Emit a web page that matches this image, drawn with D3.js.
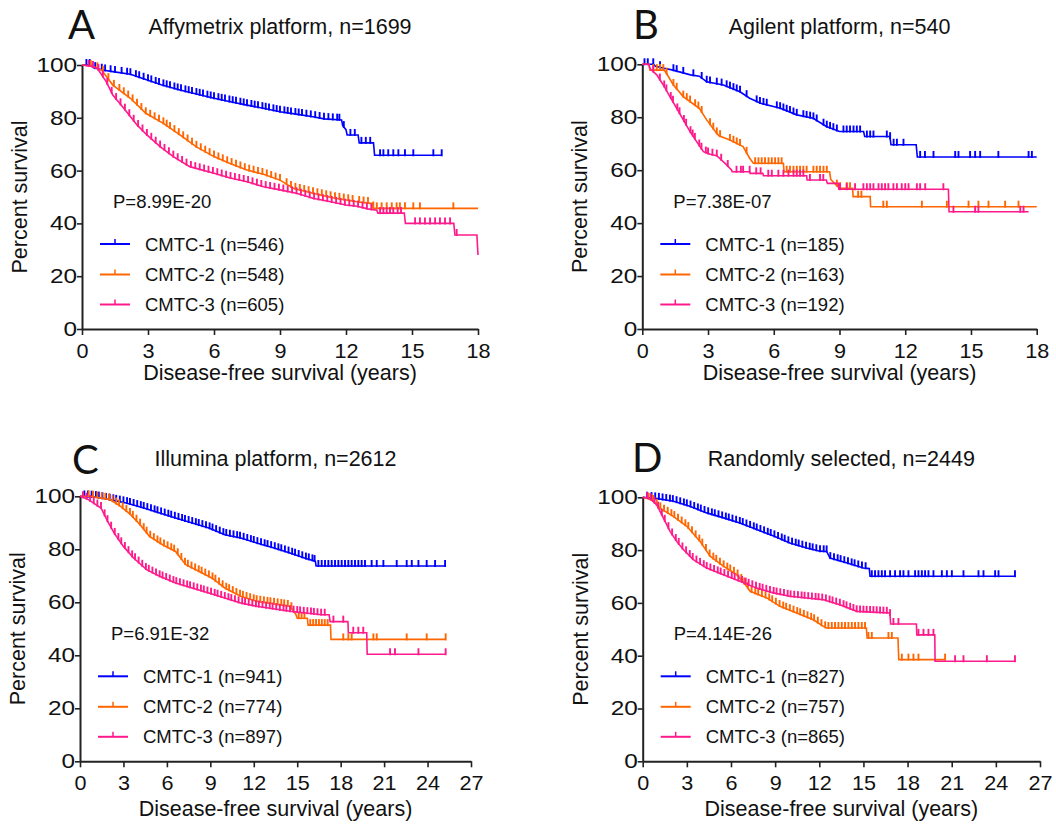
<!DOCTYPE html>
<meta charset="utf-8">
<script src="https://d3js.org/d3.v7.min.js"></script>
<style>
body { margin: 0; background: #fff; }
text { font-family: "Liberation Sans", Arial, sans-serif; fill: #111; }
.letter { font-family: Lato, "Open Sans", sans-serif; }
</style>
<div id="chart"></div>
<script>

// ---- chart texts ----
var panelIds = ["A", "B", "C", "D"];
var panelTitles = ["Affymetrix platform, n=1699", "Agilent platform, n=540",
                   "Illumina platform, n=2612", "Randomly selected, n=2449"];
var pValues = ["P=8.99E-20", "P=7.38E-07", "P=6.91E-32", "P=4.14E-26"];
var groupNames = ["CMTC-1", "CMTC-2", "CMTC-3"];
var groupN = [[546, 548, 605], [185, 163, 192], [941, 774, 897], [827, 757, 865]];
var xMaxYears = [18, 18, 27, 27];
var xTickStep = 3;
var yTicks = [0, 20, 40, 60, 80, 100];
var colors = ["#0000ff", "#ff6600", "#ff1a8c"];

// ---- survival curves: [years, percent surviving] ----
var survA1 = [[0,100],[0.4,100],[0.5,99],[1.0,98],[1.4,97.5],[2.2,96.5],[2.9,94.5],[3.6,92.5],[4.45,90.5],[5.2,89],[6.0,87.4],[6.8,86],[7.5,84.8],[8.3,83.5],[9.0,82.3],[9.8,81.3],[10.5,80.4],[11.0,79.6],[11.8,79.2],[11.85,77],[12.0,75.5],[12.05,73.5],[12.55,73.5],[12.6,70.5],[13.25,70.5],[13.3,65.8],[16.35,65.8]];
var survA2 = [[0,100],[0.5,99.5],[0.9,98],[1.4,92.4],[2.2,87.4],[2.9,81.7],[3.7,77.9],[4.45,73.5],[5.2,69],[6.0,65.3],[6.7,62.8],[7.5,60.2],[8.25,58.6],[9.0,56.4],[9.6,53.3],[10.5,51.4],[11.4,49.7],[12.5,48.2],[13.2,47.5],[13.25,45.7],[18,45.7]];
var survA3 = [[0,100],[0.4,99.5],[0.7,98.7],[1.1,93.7],[1.4,88.6],[1.9,83.6],[2.5,77.3],[2.95,73.5],[3.55,69.1],[4.15,65.3],[4.9,61.5],[6.0,59],[6.7,57.3],[7.5,55.8],[8.25,53.9],[9.0,52.7],[9.75,51.4],[10.5,49.5],[11.3,48.2],[12.0,47],[12.5,46.5],[13.0,45.5],[13.4,45],[13.45,43.9],[14.65,43.9],[14.7,40],[16.9,40],[16.95,35.6],[17.95,35.6],[18,28]];

var survB1 = [[0,100],[0.5,100],[0.6,99.3],[1.0,98.5],[1.4,97.8],[2.2,96],[2.6,95.5],[2.94,93.4],[3.7,92.2],[4.46,89.6],[4.9,87.2],[5.4,85.3],[6.3,83.4],[7.05,80.9],[7.8,79.6],[8.4,76.5],[9.0,74.6],[10.1,74.6],[10.15,72.7],[11.3,72.7],[11.35,69.6],[12.5,69.6],[12.55,65],[18,65]];
var survB2 = [[0,100],[0.3,100],[0.35,97.8],[1.0,97.8],[1.1,96.6],[1.42,92.2],[1.87,87.8],[2.33,85],[2.6,83.4],[2.94,79],[3.4,73.9],[3.5,73],[4.0,71.4],[4.6,68.9],[4.9,64.5],[5.07,62.6],[6.44,62.6],[6.47,59.4],[8.55,59.4],[8.6,56.5],[8.9,54],[9.0,53.2],[9.6,53.2],[9.62,50],[10.4,50],[10.42,46.2],[18,46.2]];
var survB3 = [[0,100],[0.3,100],[0.35,98.4],[0.66,96],[0.96,92.2],[1.26,87.8],[1.57,83.4],[1.87,79],[2.18,74.6],[2.48,70.8],[2.79,67],[3.1,66],[3.4,65.5],[3.85,62],[4.08,60],[4.1,59.4],[4.9,59.4],[4.92,58.8],[5.5,58.8],[5.53,57.9],[7.5,57.9],[7.52,56.3],[8.4,56.3],[8.45,55],[8.95,55],[8.97,52.8],[13.97,52.8],[14.0,44.3],[17.63,44.3]];

var survC1 = [[0,100],[1.0,99.8],[2.1,98.7],[3.2,97.5],[4.4,95.6],[5.5,93.7],[6.6,91.8],[7.75,89.9],[8.9,88],[10.0,85.5],[11.1,84.3],[12.2,82.4],[13.4,80.5],[14.5,78.6],[15.6,76.5],[16.25,75.5],[16.3,73.7],[25.25,73.7]];
var survC2 = [[0,100],[0.7,100],[2.1,98.7],[2.8,96.2],[3.5,93.1],[4.15,89.3],[4.8,84.9],[5.7,81.7],[6.6,79.2],[7.3,74.2],[8.2,71.7],[9.1,69.2],[10.0,65.4],[11.1,62.3],[12.2,60.4],[14.5,58.5],[14.9,55.5],[15.0,54],[15.7,54],[15.75,51.4],[17.3,51.4],[17.33,46],[25.25,46]];
var survC3 = [[0,100],[0.5,99],[1.45,95.6],[1.9,90.6],[2.35,86.2],[3.0,81.1],[3.7,76.7],[4.6,72.3],[5.5,69.8],[6.6,67.3],[7.75,65.4],[8.9,63.5],[10.0,61.6],[11.1,59.7],[12.2,58.5],[14.5,56.6],[16.7,55.3],[17.2,55.3],[17.27,52.7],[18.5,52.7],[18.53,48.5],[19.8,48.5],[19.83,40.4],[25.25,40.4]];

var survD1 = [[0,100],[1.0,99.5],[2.1,98.5],[3.2,96.6],[4.35,94.1],[5.5,92.2],[6.6,90.3],[7.75,87.8],[8.9,85.3],[10.0,82.7],[11.15,80.8],[12.05,79.6],[12.5,79.5],[12.73,77],[13.9,75.1],[15.0,73.2],[15.4,73],[15.45,70.1],[25.3,70.1]];
var survD2 = [[0,100],[0.4,99.5],[0.72,98.5],[1.17,95.9],[2.08,92.8],[3.0,89],[3.9,83.3],[4.58,77.7],[5.48,73.9],[6.4,70.7],[7.1,66],[7.3,64.4],[8.43,61.9],[9.33,58.7],[10.47,56.2],[11.6,53.6],[12.3,51],[12.5,50.5],[15.2,50.5],[15.25,46.7],[17.35,46.7],[17.4,38.5],[20.55,38.5]];
var survD3 = [[0,100],[0.5,99.5],[0.95,97.2],[1.4,92.2],[1.86,87.1],[2.31,83.3],[2.76,80.2],[3.44,76.4],[4.35,73.2],[5.48,70.7],[6.61,68.2],[7.75,65.6],[8.88,63.8],[10.0,62.5],[12.3,61.2],[13.4,59.3],[14.55,56.8],[16.8,56.2],[16.85,52],[18.6,52],[18.63,47.9],[19.85,47.9],[19.87,37.9],[25.3,37.9]];

// ---- censored observations (years) ----
var censA1 = [0.2,0.35,0.6,0.9,1.05,1.3,1.5,1.8,2.05,2.2,2.45,2.6,2.8,3.0,3.15,3.35,3.5,3.7,3.85,4.0,4.2,4.35,4.5,4.7,4.85,5.0,5.2,5.35,5.5,5.7,5.85,6.0,6.2,6.35,6.5,6.7,6.85,7.0,7.2,7.35,7.5,7.7,7.85,8.0,8.2,8.35,8.5,8.7,8.85,9.0,9.2,9.35,9.5,9.7,9.85,10.0,10.2,10.4,10.6,10.8,11.0,11.2,11.4,11.6,11.7,11.9,12.2,12.4,12.7,12.9,13.1,13.55,13.7,13.92,14.15,14.38,14.68,15.06,15.97,16.35];
var censA2 = [0.4,0.7,0.95,1.2,1.45,1.7,1.9,2.1,2.3,2.5,2.7,2.9,3.1,3.3,3.5,3.7,3.85,4.0,4.2,4.4,4.6,4.8,5.0,5.2,5.4,5.6,5.8,6.0,6.2,6.4,6.6,6.8,7.0,7.2,7.4,7.6,7.8,8.0,8.2,8.4,8.6,8.8,9.0,9.3,9.5,9.7,9.9,10.1,10.3,10.5,10.7,10.9,11.1,11.3,11.5,11.7,11.9,12.1,12.3,12.6,12.8,13.0,13.24,13.4,13.62,13.85,14.08,14.3,14.45,14.68,15.06,15.36,16.88];
var censA3 = [0.3,0.5,0.75,0.95,1.15,1.35,1.55,1.75,1.95,2.15,2.35,2.55,2.75,2.95,3.15,3.35,3.55,3.75,3.95,4.15,4.35,4.55,4.75,4.95,5.15,5.35,5.55,5.75,5.95,6.15,6.35,6.55,6.75,6.95,7.15,7.35,7.55,7.75,7.95,8.15,8.35,8.55,8.75,8.95,9.15,9.35,9.55,9.75,9.95,10.15,10.35,10.55,10.75,10.95,11.15,11.35,11.55,11.75,11.95,12.15,12.35,12.55,12.75,12.95,13.15,13.55,13.7,13.85,14.0,14.15,14.35,14.5,15.14,15.36,15.59,15.82,16.05,16.27,16.5,16.73,17.03];

var censB1 = [0.1,0.25,0.5,0.81,1.42,1.57,1.87,2.33,2.71,2.94,3.09,3.4,3.62,3.85,4.0,4.16,4.31,4.46,4.76,5.22,5.37,5.53,5.68,6.14,6.29,6.44,6.59,6.74,6.9,7.05,7.35,7.5,7.66,7.81,7.96,8.27,8.42,8.57,8.72,8.88,9.18,9.33,9.48,9.64,9.79,9.94,10.25,10.4,10.55,11.16,11.31,11.47,11.62,11.92,12.68,12.9,13.29,14.28,14.43,14.96,15.19,15.42,16.25,17.63,17.78];
var censB2 = [0.5,0.66,0.81,0.96,1.11,1.42,1.57,1.87,2.03,2.18,2.41,2.56,2.71,3.09,3.24,3.4,3.55,4.0,4.16,4.31,4.46,4.76,5.15,5.3,5.45,5.6,5.76,5.91,6.06,6.21,6.36,6.59,6.74,6.9,7.05,7.2,7.35,7.5,7.81,7.96,8.11,8.27,8.42,8.88,9.03,9.33,9.48,9.85,10.0,11.0,11.16,12.76,13.9,14.89,15.34,15.8,16.56,17.17];
var censB3 = [0.5,0.8,1.0,1.1,1.3,1.4,1.6,1.7,1.9,2.0,2.2,2.3,2.4,2.6,2.7,2.9,3.0,3.2,3.4,3.6,3.9,4.3,4.5,4.6,4.9,5.2,5.4,5.75,5.91,6.21,6.44,6.67,6.9,7.05,7.2,7.35,7.65,8.11,8.26,9.02,9.33,9.71,10.09,10.25,10.4,10.55,10.78,10.93,11.08,11.23,11.46,11.62,11.84,12.0,12.15,12.53,12.68,12.91,13.74,14.2,15.19,15.34,17.25,17.4];

var censC1 = [0.3,0.55,0.8,1.1,1.3,1.55,1.8,2.05,2.3,2.5,2.75,3.0,3.25,3.45,3.7,3.95,4.2,4.4,4.65,4.9,5.15,5.35,5.6,5.85,6.1,6.3,6.55,6.8,7.05,7.25,7.5,7.75,8.0,8.2,8.45,8.7,8.95,9.15,9.4,9.65,9.9,10.1,10.35,10.6,10.85,11.05,11.3,11.55,11.8,12.0,12.25,12.5,12.75,12.95,13.2,13.45,13.7,13.9,14.15,14.4,14.65,14.85,15.1,15.35,15.6,15.8,16.05,16.2,16.46,16.69,16.92,17.15,17.38,17.61,17.84,18.07,18.3,18.53,18.76,18.99,19.22,19.45,19.68,20.14,20.49,20.95,21.87,22.56,22.91,23.37,23.94,24.52,25.21];
var censC2 = [0.6,0.9,1.2,1.5,1.75,2.0,2.25,2.5,2.7,2.95,3.2,3.45,3.65,3.9,4.15,4.4,4.6,4.85,5.1,5.35,5.55,5.8,6.05,6.3,6.5,6.75,7.0,7.25,7.45,7.7,7.95,8.2,8.4,8.65,8.9,9.15,9.35,9.6,9.85,10.1,10.3,10.55,10.8,11.05,11.25,11.5,11.75,12.0,12.2,12.45,12.7,12.95,13.15,13.4,13.65,13.9,14.1,14.35,14.6,15.1,15.3,15.5,15.9,16.1,16.3,16.5,16.7,16.9,17.1,18.18,18.53,18.76,20.26,20.49,22.56,23.94,25.25];
var censC3 = [0.2,0.45,0.7,0.95,1.2,1.45,1.7,1.9,2.15,2.4,2.65,2.85,3.1,3.35,3.6,3.8,4.05,4.3,4.55,4.75,5.0,5.25,5.5,5.7,5.95,6.2,6.45,6.65,6.9,7.15,7.4,7.6,7.85,8.1,8.35,8.55,8.8,9.05,9.3,9.5,9.75,10.0,10.25,10.45,10.7,10.95,11.2,11.4,11.65,11.9,12.15,12.35,12.6,12.85,13.1,13.3,13.55,13.8,14.05,14.25,14.5,14.75,15.0,15.2,15.45,15.7,15.95,16.15,16.4,16.65,16.9,17.5,18.18,18.87,19.22,19.56,21.41,21.75,23.37,25.25];

var censD1 = [0.3,0.6,0.85,1.1,1.35,1.6,1.85,2.05,2.3,2.55,2.8,3.0,3.25,3.5,3.75,3.95,4.2,4.45,4.7,4.9,5.15,5.4,5.65,5.85,6.1,6.35,6.6,6.8,7.05,7.3,7.55,7.75,8.0,8.25,8.5,8.7,8.95,9.2,9.45,9.65,9.9,10.15,10.4,10.6,10.85,11.1,11.35,11.55,11.8,12.05,12.3,12.5,12.75,13.0,13.25,13.45,13.7,13.95,14.2,14.4,14.65,14.9,15.15,15.57,15.79,16.02,16.25,16.47,16.81,17.15,17.49,17.72,18.06,18.51,18.74,18.97,19.19,19.42,19.76,20.33,20.67,21.01,21.8,22.82,23.16,23.95,24.18,25.3];
var censD2 = [0.4,0.7,0.95,1.2,1.45,1.7,1.95,2.15,2.4,2.65,2.9,3.1,3.35,3.6,3.85,4.05,4.3,4.55,4.8,5.0,5.25,5.5,5.75,5.95,6.2,6.45,6.7,6.9,7.15,7.4,7.65,7.85,8.1,8.35,8.6,8.8,9.05,9.3,9.55,9.75,10.0,10.25,10.5,10.7,10.95,11.2,11.45,11.65,11.9,12.15,12.4,12.62,12.85,13.07,13.3,13.53,13.75,13.98,14.21,14.43,14.66,14.89,15.11,15.34,15.57,16.7,16.93,17.61,18.06,18.4,18.74,20.55];
var censD3 = [0.3,0.55,0.8,1.05,1.3,1.5,1.75,2.0,2.25,2.45,2.7,2.95,3.2,3.4,3.65,3.9,4.15,4.35,4.6,4.85,5.1,5.3,5.55,5.8,6.05,6.25,6.5,6.75,7.0,7.2,7.45,7.7,7.95,8.15,8.4,8.65,8.9,9.1,9.35,9.6,9.85,10.05,10.3,10.55,10.8,11.0,11.25,11.5,11.75,11.95,12.2,12.45,12.7,12.9,13.15,13.4,13.65,13.85,14.1,14.32,14.54,14.77,15.0,15.22,15.45,15.68,15.9,16.13,16.36,16.59,16.81,17.04,17.38,18.74,19.08,19.42,19.76,21.23,21.8,23.39,25.3];

var curves = [[survA1, survA2, survA3], [survB1, survB2, survB3], [survC1, survC2, survC3], [survD1, survD2, survD3]];
var censors = [[censA1, censA2, censA3], [censB1, censB2, censB3], [censC1, censC2, censC3], [censD1, censD2, censD3]];

// ---- layout (pixel positions of each plot area) ----
var layout = [
  {left: 82,    top: 65,    width: 396,   height: 264,   letterX: 68,  letterY: 39,  titleY: 34,  xTitleGap: 51},
  {left: 642.3, top: 64.3,  width: 394.4, height: 264.7, letterX: 633, letterY: 39,  titleY: 34,  xTitleGap: 51},
  {left: 80,    top: 496.3, width: 391,   height: 265,   letterX: 72,  letterY: 474, titleY: 466, xTitleGap: 55},
  {left: 642.7, top: 497.3, width: 397.3, height: 264,   letterX: 632, letterY: 472, titleY: 466, xTitleGap: 55}
];
var legendRows = [85, 54.5, 24.5];   // distance above x axis
var tickUp = 6;

var svg = d3.select("#chart")
  .append("svg")
    .attr("width", 1056)
    .attr("height", 824);

function survAt(curve, t) {
  var i = d3.bisector(function(d) { return d[0]; }).right(curve, t);
  if (i <= 0) return curve[0][1];
  if (i >= curve.length) return curve[curve.length - 1][1];
  var a = curve[i - 1], b = curve[i];
  if (b[0] === a[0]) return b[1];
  return a[1] + (b[1] - a[1]) * (t - a[0]) / (b[0] - a[0]);
}

panelIds.forEach(function(id, p) {
  var L = layout[p];
  var w = L.width, h = L.height;

  svg.append("text")
    .attr("class", "letter")
    .attr("x", L.letterX)
    .attr("y", L.letterY)
    .style("font-size", "40px")
    .text(id);

  var g = svg.append("g")
    .attr("transform", "translate(" + L.left + "," + L.top + ")");

  var x = d3.scaleLinear().domain([0, xMaxYears[p]]).range([0, w]);
  var y = d3.scaleLinear().domain([0, 100]).range([h, 0]);

  g.append("text")
    .attr("x", w / 2)
    .attr("y", L.titleY - L.top)
    .attr("text-anchor", "middle")
    .style("font-size", "21.5px")
    .text(panelTitles[p]);

  // axes
  var xAxis = g.append("g")
    .attr("transform", "translate(0," + h + ")")
    .call(d3.axisBottom(x).tickValues(d3.range(0, xMaxYears[p] + 1, xTickStep))
      .tickSize(6).tickSizeOuter(0).tickPadding(6));
  var yAxis = g.append("g")
    .call(d3.axisLeft(y).tickValues(yTicks).tickSize(5).tickSizeOuter(0).tickPadding(-1));

  [xAxis, yAxis].forEach(function(ax) {
    ax.select(".domain").attr("stroke", "#222").attr("stroke-width", 2);
    ax.selectAll(".tick line").attr("stroke", "#222").attr("stroke-width", 1.6);
    ax.selectAll("text")
      .style("font-size", "20px")
      .style("font-family", "'Liberation Sans', Arial, sans-serif")
      .attr("fill", "#111");
  });
  yAxis.selectAll("text").attr("transform", "scale(1.22,1)");
  xAxis.selectAll("text").attr("transform", "scale(1.08,1)").attr("dy", "0.85em");

  g.append("text")
    .attr("x", w / 2)
    .attr("y", h + L.xTitleGap)
    .attr("text-anchor", "middle")
    .style("font-size", "21.5px")
    .text("Disease-free survival (years)");

  g.append("text")
    .attr("transform", "translate(-55," + (h / 2) + ") rotate(-90)")
    .attr("text-anchor", "middle")
    .style("font-size", "21.5px")
    .text("Percent survival");

  g.append("text")
    .attr("x", 31)
    .attr("y", h - 121)
    .style("font-size", "18.5px")
    .text(pValues[p]);

  // curves
  var line = d3.line()
    .x(function(d) { return x(d[0]); })
    .y(function(d) { return y(d[1]); });

  curves[p].forEach(function(curve, k) {
    var cg = g.append("g");
    cg.append("path")
      .datum(curve)
      .attr("fill", "none")
      .attr("stroke", colors[k])
      .attr("stroke-width", 1.6)
      .attr("d", line);

    cg.selectAll("line.cens")
      .data(censors[p][k])
      .enter()
      .append("line")
        .attr("class", "cens")
        .attr("x1", function(t) { return x(t); })
        .attr("x2", function(t) { return x(t); })
        .attr("y1", function(t) { return y(survAt(curve, t)) + 1; })
        .attr("y2", function(t) { return y(survAt(curve, t)) - tickUp; })
        .attr("stroke", colors[k])
        .attr("stroke-width", 1.9);
  });

  // legend
  groupNames.forEach(function(name, k) {
    var ly = h - legendRows[k];
    g.append("line")
      .attr("x1", 18).attr("x2", 48)
      .attr("y1", ly).attr("y2", ly)
      .attr("stroke", colors[k])
      .attr("stroke-width", 2);
    g.append("line")
      .attr("x1", 33).attr("x2", 33)
      .attr("y1", ly).attr("y2", ly - 5)
      .attr("stroke", colors[k])
      .attr("stroke-width", 1.5);
    g.append("text")
      .attr("x", 63)
      .attr("y", ly)
      .attr("dy", "0.36em")
      .style("font-size", "18.5px")
      .text(name + " (n=" + groupN[p][k] + ")");
  });
});

</script>
